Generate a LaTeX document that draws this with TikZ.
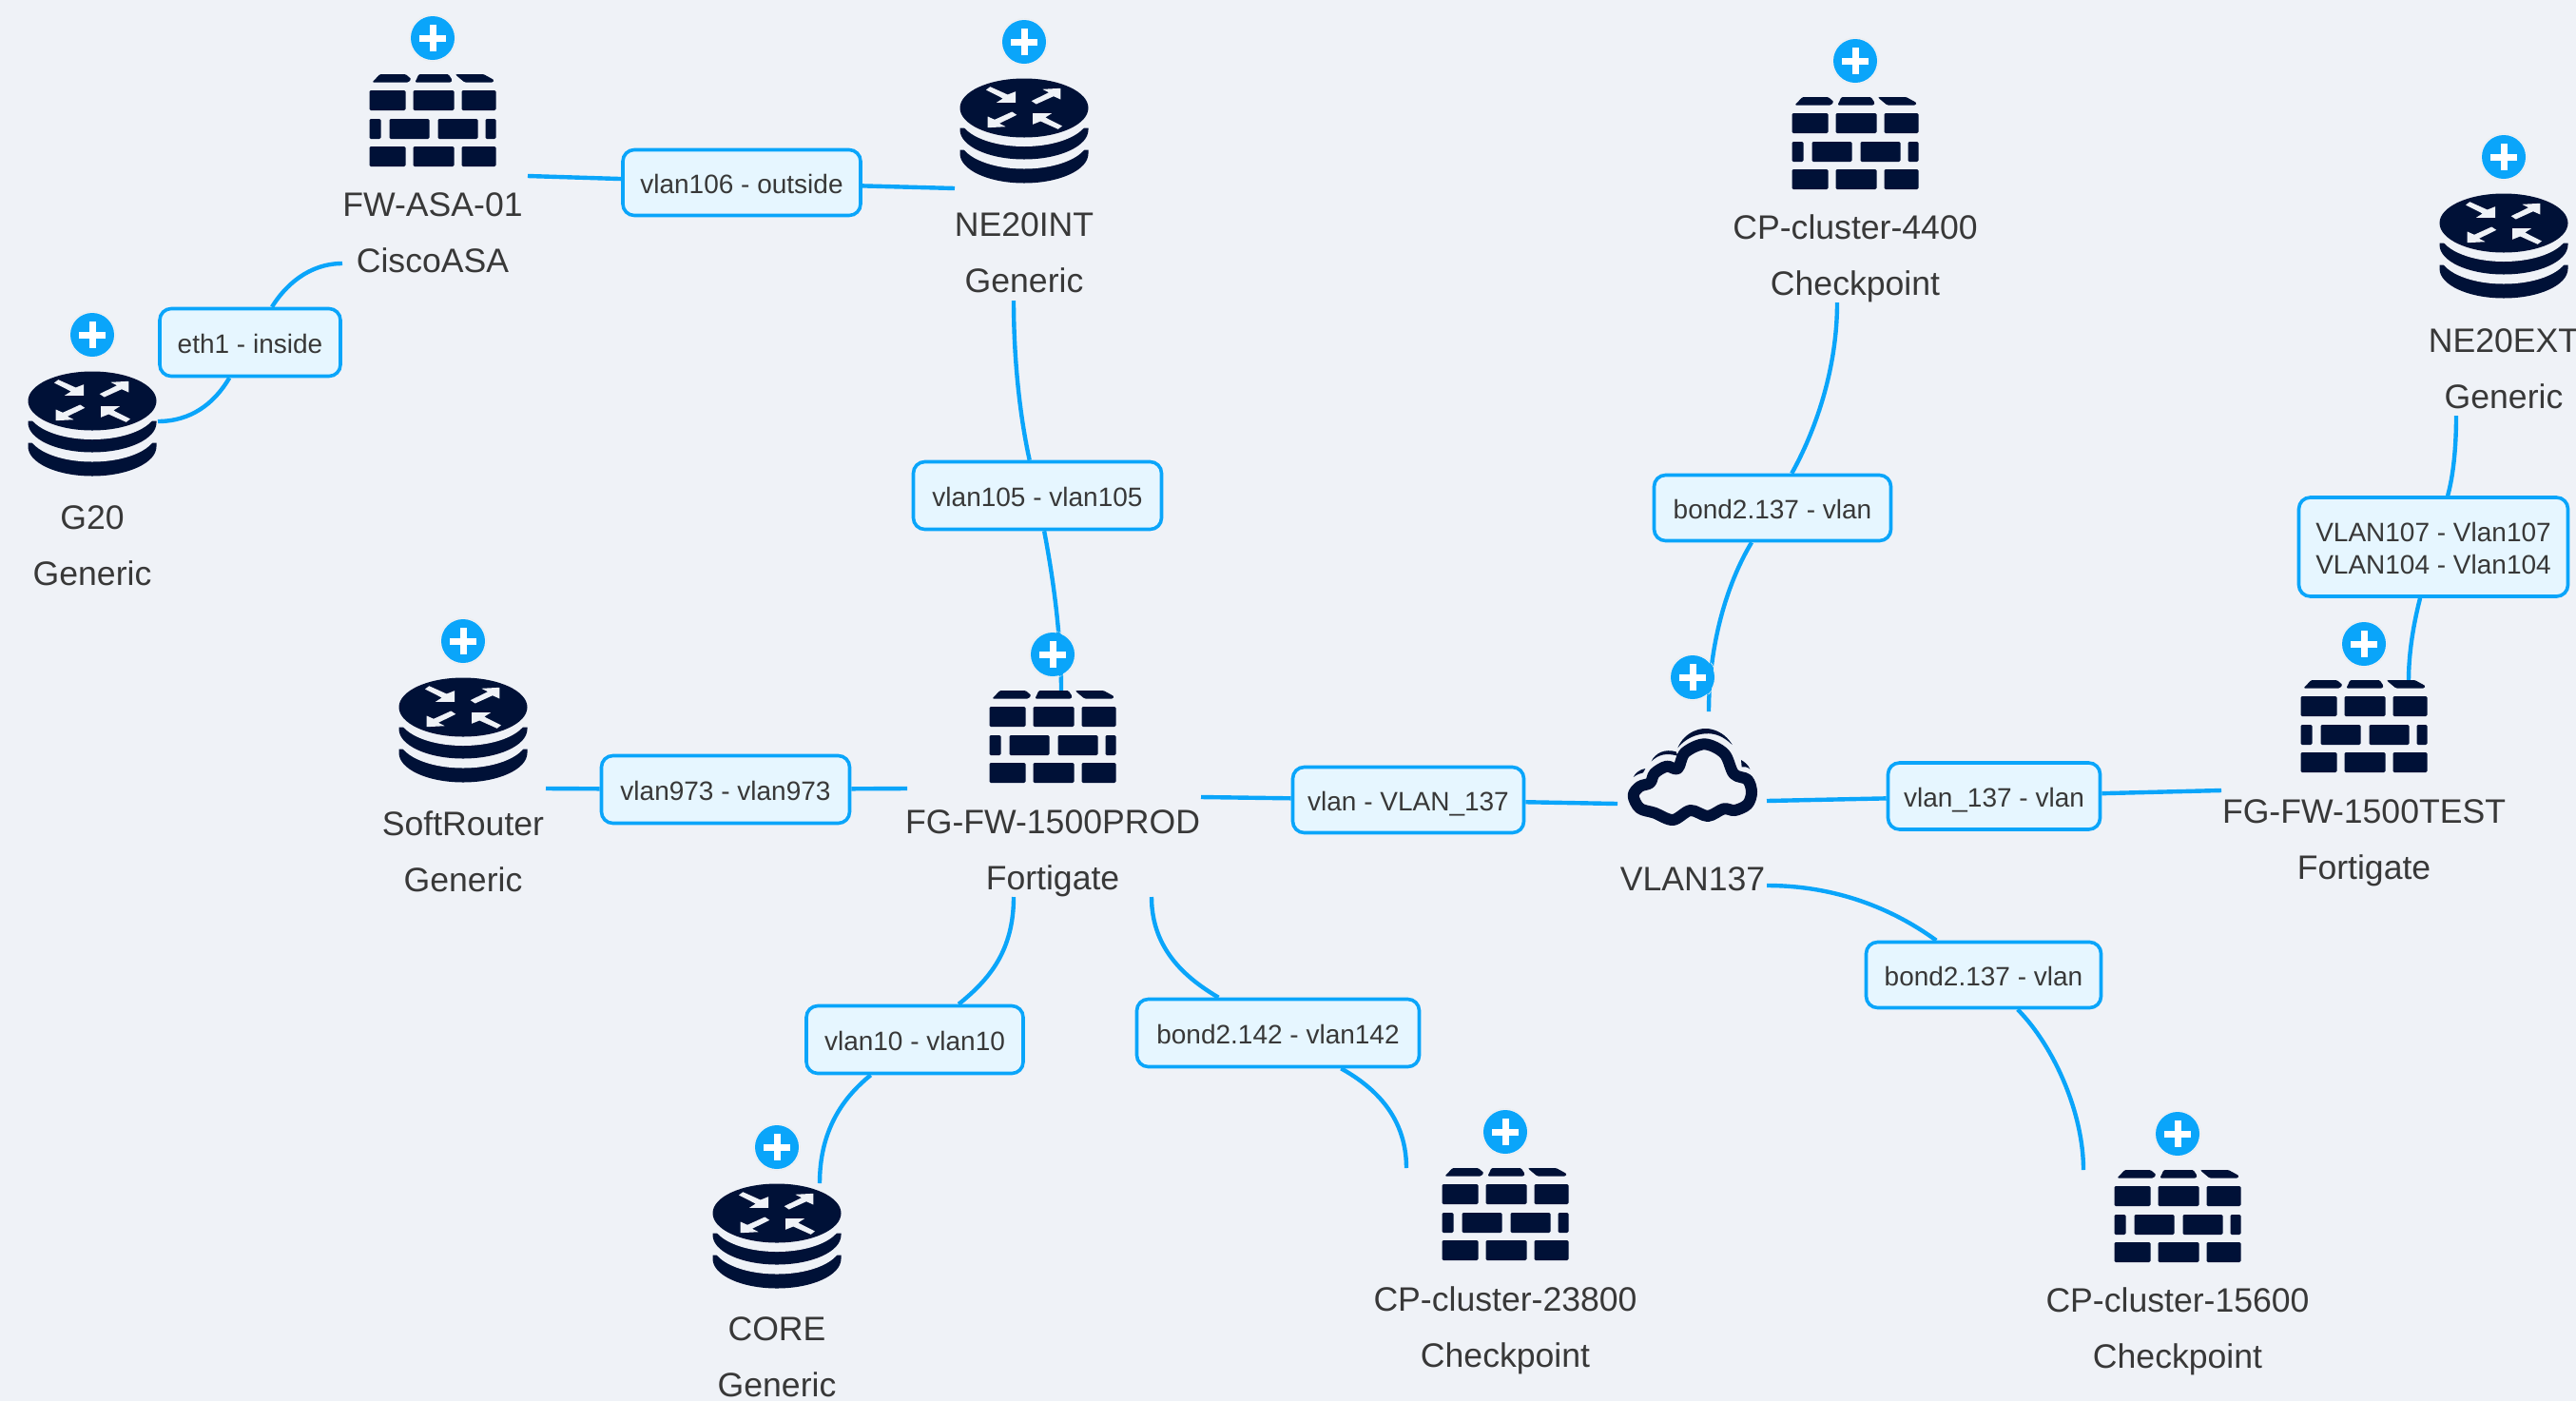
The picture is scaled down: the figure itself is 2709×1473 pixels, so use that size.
\documentclass[tikz,border=0pt]{standalone}
\usepackage{fontspec}
\setmainfont{Liberation Sans}
\usetikzlibrary{backgrounds}
\definecolor{pagebg}{HTML}{EFF2F7}
\definecolor{linkblue}{HTML}{0AA5FA}
\definecolor{boxfill}{HTML}{E6F6FF}
\definecolor{icondark}{HTML}{001137}
\definecolor{txt}{HTML}{383838}
\tikzset{
  link/.style={draw=linkblue,line width=2.2pt},
  lbl/.style={draw=linkblue,line width=1.8pt,fill=boxfill,rounded corners=6pt,inner sep=0pt,
    text=txt,font=\fontsize{14}{17}\selectfont},
  lblone/.style={lbl,text height=12.5pt,text depth=1.5pt},
  devname/.style={anchor=base,inner sep=0pt,text=txt,font=\fontsize{17.8}{20}\selectfont},
  plusbtn/.pic={
    \fill[linkblue] (0,0) circle (23);
    \draw[white!85!gray,line width=0.3pt,dash pattern=on 3pt off 0.6pt] (0,0) circle (24.5);
    \fill[white] (-14,-3.5) rectangle (14,3.5);
    \fill[white] (-3.5,-14) rectangle (3.5,14);
  },
  firewallicon/.pic={
    \pic at (0,0) {plusbtn};
    \begin{scope}[shift={(-66.5,38)},icondark]
      \fill[rounded corners=0.6pt] (3,8.5) -- (11,0) -- (38,0) -- (44,5) -- (41,8.5) -- cycle;
      \fill[rounded corners=0.6pt] (48,8.5) -- (52,0) -- (83,0) -- (87,6) -- (86,8.5) -- cycle;
      \fill[rounded corners=0.6pt] (91,1) -- (91,0) -- (120,0) -- (131,6) -- (130,8.5) -- (100,8.5) -- cycle;
      \foreach \yy in {17,76}{
        \fill[rounded corners=0.7pt] (0,\yy) rectangle (38,\yy+21);
        \fill[rounded corners=0.7pt] (46,\yy) rectangle (89,\yy+21);
        \fill[rounded corners=0.7pt] (97,\yy) rectangle (133,\yy+21);
      }
      \fill[rounded corners=0.7pt] (0,47) rectangle (12,68);
      \fill[rounded corners=0.7pt] (21,47) rectangle (63,68);
      \fill[rounded corners=0.7pt] (72,47) rectangle (114,68);
      \fill[rounded corners=0.7pt] (122,47) rectangle (133,68);
    \end{scope}
  },
  routericon/.pic={
    \pic at (0,0) {plusbtn};
    \begin{scope}[shift={(0,38.5)}]
      \fill[icondark] (-67.5,75) -- (-67.5,79) arc[start angle=180,end angle=0,x radius=67.5,y radius=31] -- (67.5,75) -- cycle;
      \fill[pagebg] (0,64) ellipse [x radius=67.5,y radius=31];
      \fill[icondark] (-67.5,52) -- (-67.5,54) arc[start angle=180,end angle=0,x radius=67.5,y radius=31] -- (67.5,52) -- cycle;
      \fill[pagebg] (0,40.5) ellipse [x radius=67.5,y radius=31];
      \fill[icondark] (0,31) ellipse [x radius=67.5,y radius=31];
      \begin{scope}[shift={(0,31)}]
        \foreach \sg in {1,-1}{
          \begin{scope}[xscale=\sg,yscale=\sg,pagebg]
            \fill (-40,-19) -- (-35.7,-22.3) -- (-17.3,-14) -- (-9,-17.3) -- (-9,-5.7) -- (-29,-5.7) -- (-22.3,-10) -- cycle;
            \fill (7.7,-7.3) -- (26,-16.3) -- (19.3,-19.7) -- (38.3,-20.7) -- (38.3,-9) -- (31,-12.3) -- (12.7,-4) -- cycle;
          \end{scope}
        }
      \end{scope}
    \end{scope}
  },
  cloudicon/.pic={
    \pic at (0,0) {plusbtn};
    % drawn in zoom-crop units: 3 units = 1 pixel, origin at the plus button
    \begin{scope}[scale=1/3,shift={(-392,-97)}]
      \draw[icondark,line width=6pt,line join=round] plot[smooth cycle,tension=0.55] coordinates {
        (205,470) (225,442) (258,430) (272,400) (310,378) (345,385) (368,335) (430,308) (492,338) (522,402)
        (565,420) (578,460) (565,498) (525,517) (490,512) (440,535) (385,517) (330,547) (272,525) (225,510)};
      \fill[icondark] (345,320) .. controls (365,270) and (420,250) .. (455,262) .. controls (485,270) and (505,290) .. (517,310)
        .. controls (490,285) and (465,272) .. (430,275) .. controls (395,278) and (365,295) .. (345,320) -- cycle;
      \fill[icondark] (262,362) .. controls (275,335) and (305,322) .. (340,332) -- (345,345) .. controls (310,335) and (285,340) .. (262,362) -- cycle;
      \fill[icondark] (205,412) .. controls (212,398) and (225,388) .. (243,385) -- (236,398) .. controls (225,400) and (215,405) .. (205,412) -- cycle;
      \fill[icondark] (545,358) .. controls (558,365) and (568,375) .. (573,387) .. controls (565,380) and (555,378) .. (547,380) -- cycle;
    \end{scope}
  }
}
\begin{document}
\begin{tikzpicture}[x=0.5pt,y=-0.5pt]
\useasboundingbox (0,0) rectangle (2709,1473);
\clip (0,0) rectangle (2709,1473);

% icons, anchored at their plus buttons
\pic at (455,40) {firewallicon};
\pic at (1077,44) {routericon};
\pic at (1951,64) {firewallicon};
\pic at (2633,165) {routericon};
\pic at (97,352) {routericon};
\pic at (487,674) {routericon};
\pic at (1107,688) {firewallicon};
\pic at (1780,712) {cloudicon};
\pic at (2486,677) {firewallicon};
\pic at (817,1206) {routericon};
\pic at (1583,1190) {firewallicon};
\pic at (2290,1192) {firewallicon};

% device names
\node[devname] (n1) at (455,227) {FW-ASA-01};
\node[devname] (t1) at (455,286) {CiscoASA};
\node[devname] (n2) at (1077,248) {NE20INT};
\node[devname] (t2) at (1077,307) {Generic};
\node[devname] (n3) at (1951,251) {CP-cluster-4400};
\node[devname] (t3) at (1951,310) {Checkpoint};
\node[devname] (n4) at (2633,370) {NE20EXT};
\node[devname] (t4) at (2633,429) {Generic};
\node[devname] (n5) at (97,556) {G20};
\node[devname] (t5) at (97,615) {Generic};
\node[devname] (n6) at (487,878) {SoftRouter};
\node[devname] (t6) at (487,937) {Generic};
\node[devname] (n7) at (1107,876) {FG-FW-1500PROD};
\node[devname] (t7) at (1107,935) {Fortigate};
\node[devname] (n8) at (1780,936) {VLAN137};
\node[devname] (n9) at (2486,865) {FG-FW-1500TEST};
\node[devname] (t9) at (2486,924) {Fortigate};
\node[devname] (n10) at (817,1409) {CORE};
\node[devname] (t10) at (817,1468) {Generic};
\node[devname] (n11) at (1583,1378) {CP-cluster-23800};
\node[devname] (t11) at (1583,1437) {Checkpoint};
\node[devname] (n12) at (2290,1379) {CP-cluster-15600};
\node[devname] (t12) at (2290,1438) {Checkpoint};

% connector labels
\node[lblone,minimum width=125pt,minimum height=34.5pt] (b1) at (780,192) {vlan106 - outside};
\node[lblone,minimum width=95pt,minimum height=35.5pt] (b2) at (263,360) {eth1 - inside};
\node[lblone,minimum width=130.5pt,minimum height=35.5pt] (b3) at (1091,521) {vlan105 - vlan105};
\node[lblone,minimum width=124.5pt,minimum height=34.5pt] (b4) at (1864,534) {bond2.137 - vlan};
\node[lbl,align=center,minimum width=141.5pt,minimum height=52pt] (b5) at (2559,575) {\rule{0pt}{12pt}VLAN107 - Vlan107\\VLAN104 - Vlan104};
\node[lblone,minimum width=130.5pt,minimum height=35.5pt] (b6) at (763,830) {vlan973 - vlan973};
\node[lblone,minimum width=121.5pt,minimum height=34.5pt] (b7) at (1481,841) {vlan - VLAN\_137};
\node[lblone,minimum width=111.5pt,minimum height=35pt] (b8) at (2097,837) {vlan\_137 - vlan};
\node[lblone,minimum width=123.5pt,minimum height=34.5pt] (b9) at (2086,1025) {bond2.137 - vlan};
\node[lblone,minimum width=114pt,minimum height=35.5pt] (b10) at (962,1093) {vlan10 - vlan10};
\node[lblone,minimum width=148.5pt,minimum height=35.5pt] (b11) at (1344,1086) {bond2.142 - vlan142};

% free ends of connectors
\coordinate (e1a) at (555,185);  \coordinate (e1b) at (1004,198);
\coordinate (e2a) at (360,277);  \coordinate (e2b) at (166,443);
\coordinate (e3a) at (1066,316); \coordinate (e3b) at (1116,726);
\coordinate (e4a) at (1932,318); \coordinate (e4b) at (1797,748);
\coordinate (e5a) at (2583,437); \coordinate (e5b) at (2533,715);
\coordinate (e6a) at (574,829);  \coordinate (e6b) at (954,829);
\coordinate (e7a) at (1263,838); \coordinate (e7b) at (1701,845);
\coordinate (e8a) at (1858,842); \coordinate (e8b) at (2336,831);
\coordinate (e9a) at (1858,931); \coordinate (e9b) at (2191,1230);
\coordinate (e10a) at (1066,943); \coordinate (e10b) at (862,1244);
\coordinate (e11a) at (1211,943); \coordinate (e11b) at (1479,1228);

\begin{scope}[on background layer]
  \fill[pagebg] (0,0) rectangle (2709,1473);
  \draw[link] (e1a) -- (b1);
  \draw[link] (b1) -- (e1b);
  \draw[link] (e2a) .. controls (325,277) and (300,300) .. (b2);
  \draw[link] (e2b) .. controls (200,443) and (225,425) .. (b2);
  \draw[link] (e3a) .. controls (1066,380) and (1073,440) .. (b3);
  \draw[link] (e3b) .. controls (1116,670) and (1108,610) .. (b3);
  \draw[link] (e4a) .. controls (1932,390) and (1908,455) .. (b4);
  \draw[link] (e4b) .. controls (1797,680) and (1815,615) .. (b4);
  \draw[link] (e5a) .. controls (2583,470) and (2580,500) .. (b5);
  \draw[link] (e5b) .. controls (2533,690) and (2537,660) .. (b5);
  \draw[link] (e6a) -- (b6);
  \draw[link] (b6) -- (e6b);
  \draw[link] (e7a) -- (b7);
  \draw[link] (b7) -- (e7b);
  \draw[link] (e8a) -- (b8);
  \draw[link] (b8) -- (e8b);
  \draw[link] (e9a) .. controls (1930,931) and (1990,955) .. (b9);
  \draw[link] (e9b) .. controls (2191,1170) and (2160,1100) .. (b9);
  \draw[link] (e10a) .. controls (1066,1000) and (1040,1030) .. (b10);
  \draw[link] (e10b) .. controls (862,1190) and (885,1155) .. (b10);
  \draw[link] (e11a) .. controls (1211,1000) and (1250,1030) .. (b11);
  \draw[link] (e11b) .. controls (1479,1170) and (1440,1140) .. (b11);
\end{scope}
\end{tikzpicture}
\end{document}
